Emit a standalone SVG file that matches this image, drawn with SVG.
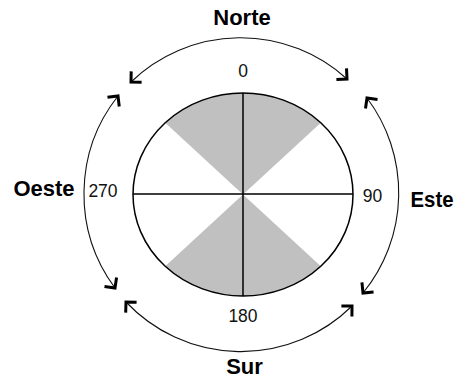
<svg xmlns="http://www.w3.org/2000/svg" width="458" height="379" viewBox="0 0 458 379">
<style>
.bg{fill:#ffffff}
.wedge{fill:#c0c0c0;stroke:none}
.outline{fill:none;stroke:#000;stroke-width:1.5}
.axis{stroke:#000;stroke-width:1.5}
.arc{fill:none;stroke:#111;stroke-width:1.1;marker-start:url(#ah);marker-end:url(#ah)}
.lbl{font-family:"Liberation Sans",Arial,sans-serif;font-weight:bold;font-size:22px;fill:#000}
.num{font-family:"Liberation Sans",Arial,sans-serif;font-size:17.5px;fill:#111}
</style>
<defs>
<marker id="ah" markerUnits="userSpaceOnUse" orient="auto-start-reverse" markerWidth="20" markerHeight="20" refX="0" refY="0" viewBox="-12 -12 20 20" overflow="visible">
<path d="M-7.5,-7.5 L0,0 L-7.5,7.5" fill="none" stroke="#000" stroke-width="3" stroke-linejoin="miter"/>
</marker>
</defs>
<rect class="bg" x="0" y="0" width="458" height="379"/>
<g id="dial">
<path class="wedge" d="M243,194.5 L165.2,122.7 A110,101.5 0 0 1 320.8,122.7 Z"/>
<path class="wedge" d="M243,194.5 L165.2,266.3 A110,101.5 0 0 0 320.8,266.3 Z"/>
<ellipse class="outline" cx="243" cy="194.5" rx="110" ry="101.5"/>
<line class="axis" x1="243" y1="93" x2="243" y2="296"/>
<line class="axis" x1="133" y1="194" x2="353" y2="194"/>
</g>
<g id="connectors">
<path id="arc-norte" class="arc" d="M131,82 A158,158 0 0 1 347,79"/>
<path id="arc-este" class="arc" d="M367,98 A158,158 0 0 1 363,293"/>
<path id="arc-sur" class="arc" d="M352,306 A158,158 0 0 1 126,302"/>
<path id="arc-oeste" class="arc" d="M115,288 A158,158 0 0 1 118,96"/>
</g>
<g id="norte"><text class="lbl" x="242" y="25" text-anchor="middle">Norte</text></g>
<g id="este"><text class="lbl" x="432" y="207" text-anchor="middle" textLength="43" lengthAdjust="spacingAndGlyphs">Este</text></g>
<g id="sur"><text class="lbl" x="244.5" y="374" text-anchor="middle">Sur</text></g>
<g id="oeste"><text class="lbl" x="44" y="196" text-anchor="middle">Oeste</text></g>
<g id="n0"><text class="num" x="243" y="77" text-anchor="middle">0</text></g>
<g id="n90"><text class="num" x="372.5" y="202" text-anchor="middle">90</text></g>
<g id="n180"><text class="num" x="243" y="322" text-anchor="middle">180</text></g>
<g id="n270"><text class="num" x="103" y="197" text-anchor="middle">270</text></g>
</svg>
